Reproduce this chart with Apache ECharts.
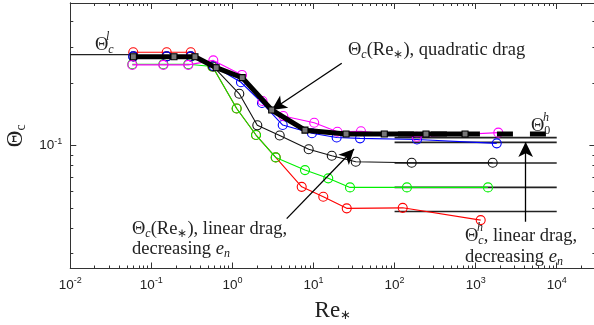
<!DOCTYPE html>
<html><head><meta charset="utf-8">
<script src="https://cdn.jsdelivr.net/npm/echarts@6/dist/echarts.min.js"></script>
<style>html,body{margin:0;padding:0;background:#fff}#c{width:594px;height:325px}</style>
</head><body><div id="c"></div>
<script>
// ---- tick labels ----
const xMajorTicks = [0.01, 0.1, 1, 10, 100, 1000, 10000];
const yMajorTicks = [0.1];
const xMinorMult = [2, 3, 4, 5, 6, 7, 8, 9];
const xMinorDecades = [0.01, 0.1, 1, 10, 100, 1000, 10000];
const yMinorTicks = [0.03, 0.04, 0.05, 0.06, 0.07, 0.08, 0.09, 0.2, 0.3, 0.4];

// ---- quadratic drag (thick black, squares) ----
const quadRe    = [0.06, 0.19, 0.345, 0.63, 1.32, 3.05, 7.85, 25.2, 74.7, 244, 740];
const quadTheta = [0.270, 0.270, 0.270, 0.239, 0.214, 0.149, 0.119, 0.114, 0.114, 0.114, 0.114];

// ---- linear drag, decreasing e_n ----
const redRe    = [0.0598, 0.1545, 0.306, 0.567, 1.128, 1.953, 3.418, 7.15, 13.2, 25.7, 126, 1154];
const redTheta = [0.284, 0.284, 0.284, 0.242, 0.1515, 0.1127, 0.0878, 0.0632, 0.0566, 0.0497, 0.0500, 0.0436];

const greenRe    = [0.0582, 0.1406, 0.2852, 0.567, 1.128, 1.953, 3.418, 7.85, 15.2, 28.2, 142, 1420];
const greenTheta = [0.2485, 0.2485, 0.2485, 0.242, 0.1515, 0.1127, 0.0878, 0.0762, 0.0695, 0.0628, 0.0628, 0.0628];

const blackRe    = [0.0598, 0.1545, 0.306, 0.574, 1.215, 2.026, 3.83, 8.72, 16.8, 33.2, 162.6, 1623];
const blackTheta = [0.271, 0.271, 0.271, 0.243, 0.1786, 0.1256, 0.1121, 0.0961, 0.0894, 0.0836, 0.0827, 0.0827];

const blueRe    = [0.0598, 0.1545, 0.306, 0.59, 1.275, 2.315, 4.17, 9.57, 19.3, 37.5, 189, 1820];
const blueTheta = [0.271, 0.271, 0.271, 0.243, 0.2031, 0.1612, 0.126, 0.1149, 0.1096, 0.1086, 0.1072, 0.1027];

const magRe    = [0.0582, 0.1406, 0.2852, 0.581, 1.312, 2.35, 4.24, 10.2, 19.7, 38.5, 187.5, 1903];
const magTheta = [0.2465, 0.2465, 0.2465, 0.2592, 0.2204, 0.1648, 0.1394, 0.1293, 0.1169, 0.1175, 0.1106, 0.1157];

// ---- reference levels ----
const thetaLowRe = [0.01, 0.06];
const thetaLow = 0.2764;
const theta0hRe = [110, 7600];
const theta0h = 0.1139;
const thetaHighRe = [100, 10000];
const thetaHigh = [0.1095, 0.1038, 0.0825, 0.0628, 0.0480];

// ---- annotation arrows (data coords) ----
const arrowQuad = [[22.3, 0.251], [3.05, 0.149]];
const arrowLin  = [[4.67, 0.0443], [31.6, 0.0964]];
const arrowHigh = [[4140, 0.0428], [4140, 0.1042]];

const xMinorTicks = [];
xMinorDecades.forEach(d => xMinorMult.forEach(m => xMinorTicks.push(d * m)));

const XMIN = 0.01, XMAX = 30000, YMIN = 0.0254, YMAX = 0.492;
const AX = '#333';
const SERIF = 'Liberation Serif';

function zip(a, b) { return a.map((v, i) => [v, b[i]]); }

function logAxis(pos, min, max, major, showLabel, ticks, len) {
  return {
    type: 'log', logBase: 10, position: pos, min: min, max: max,
    axisLine: { show: true, lineStyle: { color: AX, width: 1 } },
    splitLine: { show: false },
    axisTick: { show: true, inside: true, length: len, customValues: ticks, lineStyle: { color: AX, width: 1 } },
    axisLabel: showLabel ? {
      show: true, customValues: major, margin: 8,
      formatter: v => '{b|10}{s|' + Math.round(Math.log10(v)) + '}',
      rich: {
        b: { fontFamily: 'Liberation Sans', fontSize: 13.5, color: '#222' },
        s: { fontFamily: 'Liberation Sans', fontSize: 9, color: '#222', padding: [0, 0, 9, 0] }
      }
    } : { show: false }
  };
}

const xAxes = [
  Object.assign(logAxis('bottom', XMIN, XMAX, xMajorTicks, true, xMajorTicks, 6), {
    name: '{r|Re}{s|∗}', nameLocation: 'middle', nameGap: 31,
    nameTextStyle: { rich: {
      r: { fontFamily: SERIF, fontSize: 23, color: '#222' },
      s: { fontFamily: SERIF, fontSize: 13, color: '#222', padding: [10, 0, 0, 0] }
    } }
  }),
  logAxis('bottom', XMIN, XMAX, null, false, xMinorTicks, 3),
  logAxis('top', XMIN, XMAX, null, false, xMajorTicks, 6),
  logAxis('top', XMIN, XMAX, null, false, xMinorTicks, 3)
];
const yAxes = [
  Object.assign(logAxis('left', YMIN, YMAX, yMajorTicks, true, yMajorTicks, 6), {
    name: '{t|Θ}{s|c}', nameLocation: 'middle', nameGap: 38, nameRotate: 90,
    nameTextStyle: { rich: {
      t: { fontFamily: SERIF, fontSize: 23, color: '#222' },
      s: { fontFamily: SERIF, fontSize: 14, color: '#222', padding: [10, 0, 0, 0] }
    } }
  }),
  logAxis('left', YMIN, YMAX, null, false, yMinorTicks, 3),
  logAxis('right', YMIN, YMAX, null, false, yMajorTicks, 6),
  logAxis('right', YMIN, YMAX, null, false, yMinorTicks, 3)
];

function circSeries(name, re, th, color, z) {
  return {
    name: name, type: 'line', data: zip(re, th), z: z,
    symbol: 'circle', symbolSize: 9,
    itemStyle: { color: 'rgba(255,255,255,0)', borderColor: color, borderWidth: 1.1 },
    lineStyle: { color: color, width: 1.1 },
    emphasis: { disabled: true }
  };
}
function hline(re, y, z, style) {
  return {
    type: 'line', data: re.map(r => [r, y]), z: z, symbol: 'none',
    lineStyle: style, emphasis: { disabled: true }
  };
}
function arrow(pts) {
  return [{ coord: pts[0], symbol: 'none' }, { coord: pts[1], symbol: 'arrow' }];
}

const series = [];
thetaHigh.forEach(v => series.push(hline(thetaHighRe, v, 1, { color: '#222', width: 1.6 })));
series.push(hline(thetaLowRe, thetaLow, 1, { color: '#222', width: 1.1 }));
series.push(circSeries('red', redRe, redTheta, '#ff0000', 2));
series.push(circSeries('green', greenRe, greenTheta, '#00f000', 3));
series.push(circSeries('black', blackRe, blackTheta, '#111111', 4));
series.push(circSeries('blue', blueRe, blueTheta, '#0000ff', 5));
series.push(circSeries('magenta', magRe, magTheta, '#ff00ff', 6));
series.push({
  type: 'line', data: zip(quadRe, quadTheta), z: 8,
  symbol: 'rect', symbolSize: 6,
  itemStyle: { color: '#777', borderColor: '#000', borderWidth: 1.1 },
  lineStyle: { color: '#000', width: 5 }, emphasis: { disabled: true }
});
series.push(hline(theta0hRe, theta0h, 7, { color: '#000', width: 5, type: [16, 17] }));
series.push({
  type: 'line', data: [], z: 10,
  markLine: {
    silent: true, animation: false, symbolSize: [11, 15],
    label: { show: false },
    lineStyle: { color: '#000', width: 1.3, type: 'solid' },
    emphasis: { disabled: true },
    data: [arrow(arrowQuad), arrow(arrowLin), arrow(arrowHigh)]
  }
});

const FS = 18.5;
const richBase = {
  n: { fontFamily: SERIF, fontSize: FS, color: '#222' },
  i: { fontFamily: SERIF, fontSize: FS, color: '#222', fontStyle: 'italic' },
  sb: { fontFamily: SERIF, fontSize: 12, color: '#222', fontStyle: 'italic', padding: [9, 0, 0, 0] },
  sbn: { fontFamily: SERIF, fontSize: 12, color: '#222', padding: [9, 0, 0, 0] },
  sp: { fontFamily: SERIF, fontSize: 12, color: '#222', fontStyle: 'italic' }
};
function label(x, y, text) {
  return { type: 'text', x: x, y: y, z: 20, silent: true,
    style: { text: text, rich: richBase, fill: '#222', verticalAlign: 'middle', align: 'left',
             font: FS + 'px ' + SERIF } };
}

const chart = echarts.init(document.getElementById('c'), null, { renderer: 'canvas' });
chart.setOption({
  animation: false,
  backgroundColor: '#fff',
  grid: { left: 70.3, top: 3, width: 525.1, height: 265.5, containLabel: false, outerBoundsMode: 'none' },
  xAxis: xAxes, yAxis: yAxes, series: series,
  graphic: [
    label(95, 45, '{n|Θ}{sb|c}'), label(106, 37, '{sp|l}'),
    label(348, 50, '{n|Θ}{sb|c}{n|(Re}{sbn|∗}{n|), quadratic drag}'),
    label(132, 229, '{n|Θ}{sb|c}{n|(Re}{sbn|∗}{n|), linear drag,}'),
    label(132, 249, '{n|decreasing }{i|e}{sb|n}'),
    label(465, 236, '{n|Θ}{sb|c}{n|, linear drag,}'), label(477, 228, '{sp|h}'),
    label(465, 257, '{n|decreasing }{i|e}{sb|n}'),
    label(531, 126, '{n|Θ}{sbn|0}'), label(543, 118, '{sp|h}')
  ]
});
</script></body></html>
